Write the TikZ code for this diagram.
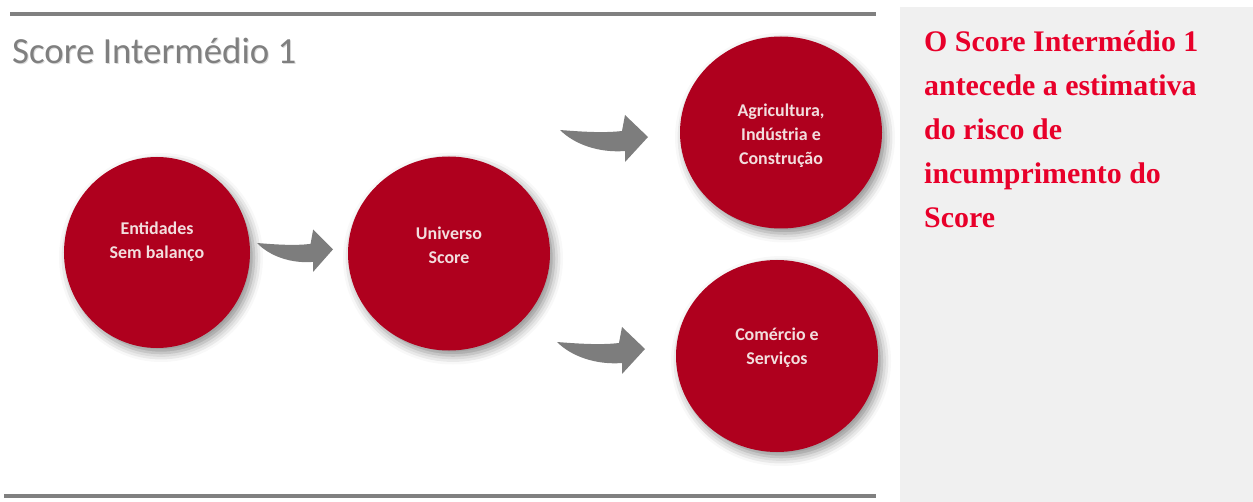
\documentclass[tikz,border=0pt]{standalone}
\usepackage{fontspec}
\setmainfont{Liberation Serif}
\newfontfamily\carlito{Carlito}
\usetikzlibrary{shapes.geometric,shadows.blur}
\definecolor{circred}{RGB}{175,0,30}
\definecolor{txtred}{RGB}{232,0,42}
\definecolor{circtext}{RGB}{242,222,222}
\definecolor{arrowgray}{RGB}{125,125,125}
\definecolor{panelgray}{RGB}{240,240,240}
\definecolor{rulegray}{RGB}{128,128,128}
\definecolor{titlegray}{RGB}{127,127,127}
\definecolor{titleshadow}{RGB}{218,218,218}
\begin{document}
\begin{tikzpicture}[x=1bp,y=-1bp,
  stage/.style={ellipse, fill=circred, inner sep=0pt,
    blur shadow={shadow xshift=4bp, shadow yshift=-5bp, shadow blur radius=9bp, shadow opacity=45}},
  stagetext/.style={text=circtext, font=\carlito\bfseries\fontsize{18}{24}\selectfont, align=center, inner sep=0pt},
  rule/.style={draw=rulegray, line width=3.5bp},
  titlefont/.style={anchor=base west, inner sep=0pt, font=\carlito\fontsize{37}{44}\selectfont},
  curvarrow/.pic={\fill[arrowgray] (0,0) .. controls (25,2) and (45,3) .. (62,1) -- (65,-15) -- (88,7) -- (65,32) -- (65,21) .. controls (40,23) and (15,15) .. cycle;}
]
\useasboundingbox (0,0) rectangle (1253,502);
% right panel
\fill[panelgray] (900,7) rectangle (1253,502);
% rules
\coordinate (t1) at (10,14); \coordinate (t2) at (876,14);
\coordinate (b1) at (4,496); \coordinate (b2) at (876,496);
\draw[rule] (t1) -- (t2);
\draw[rule, line width=4bp] (b1) -- (b2);
% title
\node[titlefont, text=titleshadow] (titleS) at (13,64.5) {Score Intermédio 1};
\node[titlefont, text=titlegray] (title) at (12,63.5) {Score Intermédio 1};
% circles
\node[stage, minimum width=186bp, minimum height=191bp] (ent) at (157,252.5) {};
\node[stage, minimum width=202bp, minimum height=194bp] (uni) at (449,253.5) {};
\node[stage, minimum width=202bp, minimum height=192bp] (agr) at (781,132.5) {};
\node[stage, minimum width=202bp, minimum height=192bp] (com) at (777,356) {};
\node[stagetext] (entT) at (157,242) {Entidades\\Sem balanço};
\node[stagetext] (uniT) at (449,245.5) {Universo\\Score};
\node[stagetext] (agrT) at (781,136) {Agricultura,\\Indústria e\\Construção};
\node[stagetext] (comT) at (777,347.5) {Comércio e\\Serviços};
% arrows
\pic[xscale=0.864, yscale=0.9] at (257,243) {curvarrow};
\pic at (560,130) {curvarrow};
\pic at (557,342) {curvarrow};
% side text
\node[anchor=north west, inner sep=0pt, text=txtred, align=left, font=\bfseries\fontsize{30}{44}\selectfont] (note) at (924,31) {O Score Intermédio 1\\antecede a estimativa\\do risco de\\incumprimento do\\Score};
\end{tikzpicture}
\end{document}
